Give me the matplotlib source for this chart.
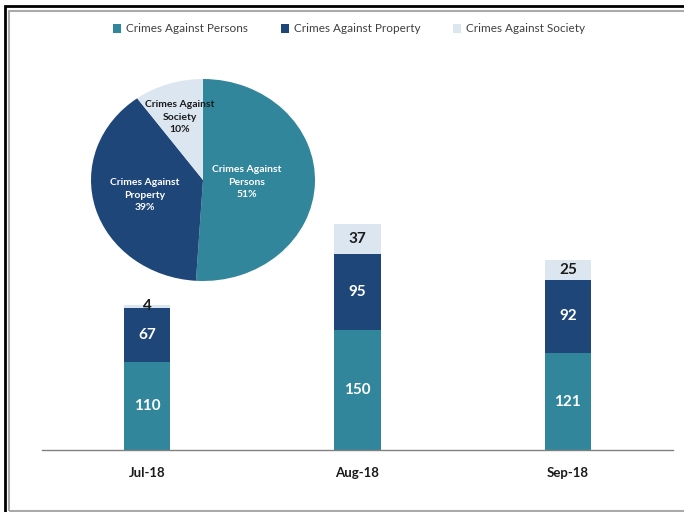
import matplotlib
matplotlib.use("Agg")
import matplotlib.pyplot as plt
from matplotlib.patches import Rectangle, Patch

plt.rcParams['font.family'] = ['Lato', 'DejaVu Sans']

months = ["Jul-18", "Aug-18", "Sep-18"]
series_names = ["Crimes Against Persons", "Crimes Against Property", "Crimes Against Society"]
persons = [110, 150, 121]
property_ = [67, 95, 92]
society = [4, 37, 25]
pie_labels = ["Crimes Against\nPersons", "Crimes Against\nProperty", "Crimes Against\nSociety"]
pie_values = [51, 39, 10]

colors = ["#31869B", "#1F4679", "#DCE6F1"]
label_colors = ["white", "white", "#1a1a1a"]

W, H = 684, 512
fig = plt.figure(figsize=(W / 100, H / 100), dpi=100)

# frame lines
fig.patches.append(Rectangle((4.5 / W, -0.1), 1.2, (H - 5.5) / H + 0.1, transform=fig.transFigure,
                             fill=False, edgecolor="black", linewidth=2.0))
fig.patches.append(Rectangle((8.5 / W, 1.5 / H), 1.2, (H - 12) / H, transform=fig.transFigure,
                             fill=False, edgecolor="#aaaaaa", linewidth=1.5))

# bar axes
ymax = 300
ax = fig.add_axes([42 / W, 62 / H, 631 / W, 240 / H])
x = list(range(len(months)))
bw = 46 / 210
series = [persons, property_, society]
bottoms = [0] * len(months)
for vals, col, lc in zip(series, colors, label_colors):
    ax.bar(x, vals, bw, bottom=bottoms, color=col, edgecolor="none", zorder=2)
    for xi, v, b in zip(x, vals, bottoms):
        yc = b + v / 2
        if v < 8:
            yc = b + v / 2 + 1.5
        ax.text(xi, yc, str(v), ha="center", va="center", color=lc,
                fontsize=11, fontweight="bold", zorder=3)
    bottoms = [b + v for b, v in zip(bottoms, vals)]

ax.set_xlim(-0.5, 2.5)
ax.set_ylim(0, ymax)
for s in ["top", "right", "left"]:
    ax.spines[s].set_visible(False)
ax.spines["bottom"].set_color("#808080")
ax.spines["bottom"].set_linewidth(1.0)
ax.set_yticks([])
ax.set_xticks(x)
ax.set_xticklabels(months, fontsize=9.5, fontweight="bold", color="#1a1a1a")
ax.tick_params(axis="x", length=0, pad=12)
ax.patch.set_alpha(0)

# pie
cx, cy, rx, ry = 203, 180, 112, 101
pax = fig.add_axes([(cx - rx) / W, (H - cy - ry) / H, 2 * rx / W, 2 * ry / H])
pax.pie(pie_values, colors=colors, startangle=90, counterclock=False,
        wedgeprops=dict(linewidth=0))
pax.set_aspect("auto")
pax.set_xlim(-1, 1)
pax.set_ylim(-1, 1)
label_pos = [(0.39, -0.02), (-0.52, -0.15), (-0.21, 0.62)]
for lab, v, (px, py), lc in zip(pie_labels, pie_values, label_pos, label_colors):
    pax.text(px, py, f"{lab}\n{v}%", ha="center", va="center", color=lc,
             fontsize=7.5, fontweight="bold", linespacing=1.5)

# legend
handles = [Patch(facecolor=c, edgecolor="none") for c in colors]
fig.legend(handles, series_names, loc="center", ncol=3, frameon=False,
           bbox_to_anchor=(349 / W, 1 - 29 / H), fontsize=8.5, handlelength=0.7,
           handleheight=0.7, handletextpad=0.4, columnspacing=2.8,
           labelcolor="#404040")

fig.savefig("out.png", dpi=100)
